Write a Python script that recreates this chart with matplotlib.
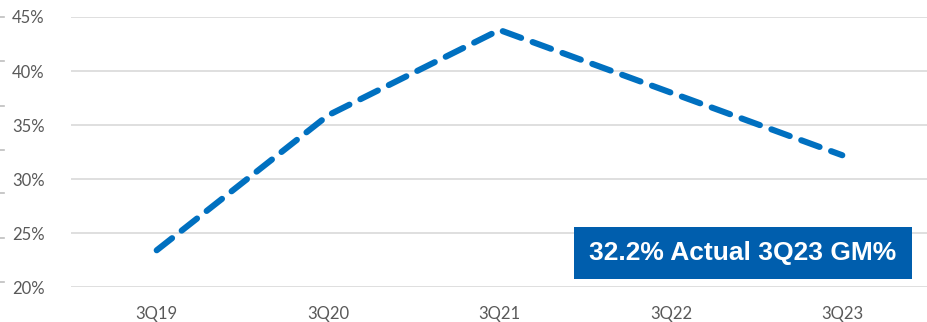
import matplotlib
matplotlib.use("Agg")
import matplotlib.pyplot as plt
from matplotlib.patches import Rectangle
from matplotlib.lines import Line2D

quarters = ["3Q19", "3Q20", "3Q21", "3Q22", "3Q23"]
gross_margin = [23.4, 35.9, 43.8, 38.0, 32.2]
y_ticks = [20, 25, 30, 35, 40, 45]
callout = "32.2% Actual 3Q23 GM%"

W, H = 928, 322
fig = plt.figure(figsize=(W / 100, H / 100), dpi=100)
ax = fig.add_axes([71 / W, 1 - 287 / H, 1 - 71 / W, (287 - 17) / H])

x = list(range(len(quarters)))
ax.plot(x, gross_margin, color="#0070C0", lw=4.4, linestyle=(0, (3.2, 2.0)),
        dash_capstyle="round", solid_capstyle="round", zorder=3)

ax.set_xlim(-0.5, len(quarters) - 0.5)
ax.set_ylim(20, 45)
ax.set_yticks(y_ticks)
ax.set_yticklabels([f"{v}%" for v in y_ticks])
ax.set_xticks(x)
ax.set_xticklabels(quarters)
ax.grid(axis="y", color="#D9D9D9", lw=1.2)
ax.set_axisbelow(True)
for s in ax.spines.values():
    s.set_visible(False)
ax.tick_params(length=0, labelsize=12, labelcolor="#595959")
ax.tick_params(axis="y", pad=19)
ax.tick_params(axis="x", pad=14)
for lab in ax.get_xticklabels() + ax.get_yticklabels():
    lab.set_fontfamily("Lato")

# callout box
x0, x1 = (574 - 71) / (W - 71), (912 - 71) / (W - 71)
y0, y1 = (287 - 279) / 270, (287 - 227) / 270
ax.add_patch(Rectangle((x0, y0), x1 - x0, y1 - y0, transform=ax.transAxes,
                       facecolor="#005EAD", edgecolor="none", zorder=4))
ax.text((x0 + x1) / 2, (y0 + y1) / 2, callout, transform=ax.transAxes,
        ha="center", va="center", color="white", fontsize=19,
        fontweight="bold", family="Liberation Sans", zorder=5)

# small marks along the left edge
for yp in [17, 61, 106, 150, 193, 238, 282]:
    fig.add_artist(Line2D([0, 4 / W], [1 - yp / H] * 2, color="#BFBFBF", lw=1.2,
                          transform=fig.transFigure))

fig.savefig("out.png", dpi=100)
